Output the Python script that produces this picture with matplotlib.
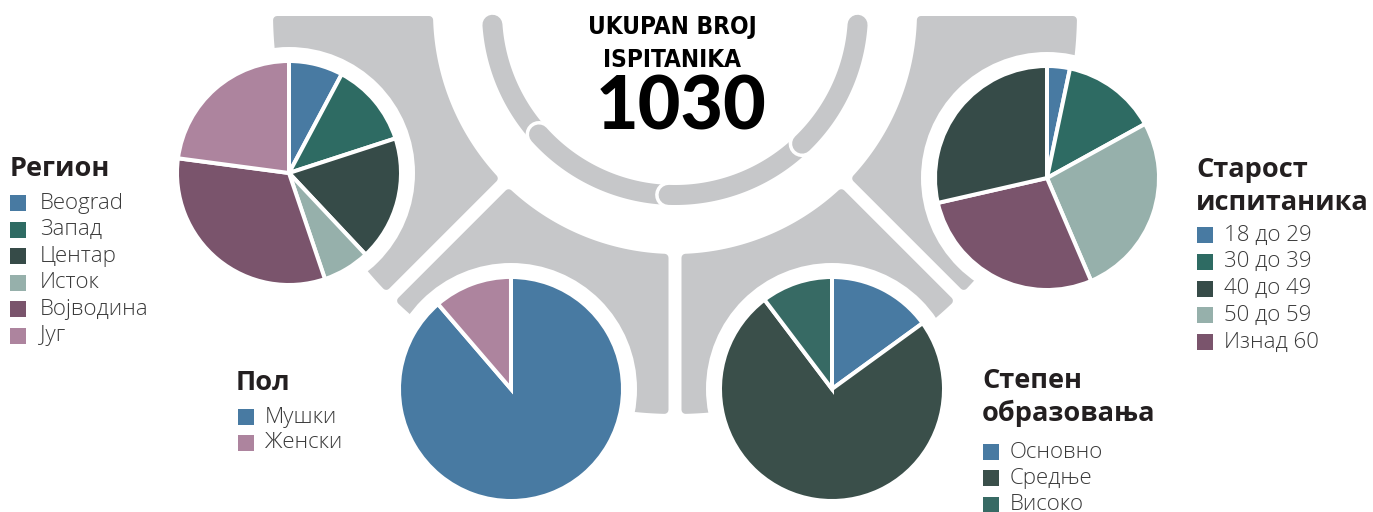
import numpy as np
import matplotlib
matplotlib.use("Agg")
import matplotlib.pyplot as plt
from matplotlib.patches import Polygon, Circle, Rectangle
import matplotlib.patheffects as pe
from matplotlib import font_manager

# ---------------- data ----------------
region_labels = ["Beograd", "Запад", "Центар", "Исток", "Војводина", "Југ"]
region_values = [7.8, 12.2, 18.0, 6.8, 32.3, 22.9]

age_labels = ["18 до 29", "30 до 39", "40 до 49", "50 до 59", "Изнад 60"]
age_values = [3.3, 13.7, 28.6, 26.6, 27.9]
age_pie_order = [0, 1, 3, 4, 2]   # clockwise order of wedges in the picture

gender_labels = ["Мушки", "Женски"]
gender_values = [88.7, 11.3]

edu_labels = ["Основно", "Средње", "Високо"]
edu_values = [15.0, 74.7, 10.3]

total_title = ["UKUPAN BROJ", "ISPITANIKA"]
total_value = 1030

# ---------------- style ----------------
BLUE = "#487aa2"
TEAL = "#2e6b63"
DARK = "#364b48"
LTEAL = "#96b0ab"
PURPLE = "#7a546c"
PINK = "#ad849e"
GRAY = "#c6c7c9"
TXT = "#231f20"
LTXT = "#3a3a3a"

region_colors = [BLUE, TEAL, DARK, LTEAL, PURPLE, PINK]
age_colors = [BLUE, TEAL, DARK, LTEAL, PURPLE]
gender_colors = [BLUE, PINK]
edu_colors = [BLUE, "#3a4f4a", "#376a64"]

SANS = ["Open Sans", "DejaVu Sans"]
has_cond = any(f.name == "DejaVu Sans" and f.stretch == "condensed" and f.weight in (700, "bold")
               for f in font_manager.fontManager.ttflist)

W, H = 1373, 512
PX = 0.72  # points per pixel at dpi 100

fig = plt.figure(figsize=(W / 100, H / 100), dpi=100)
ax = fig.add_axes([0, 0, 1, 1])


def Y(y):
    return H - y


# ---------------- gray decorative ring ----------------
CX, CY = 675, Y(12)
R_IN, R_OUT = 242, 402
RC = 4  # corner rounding radius


def sector(a1, a2, g1, g2, rin, rout):
    pts = []
    d1o, d2o = np.degrees(np.arcsin(g1 / rout)), np.degrees(np.arcsin(g2 / rout))
    d1i, d2i = np.degrees(np.arcsin(g1 / rin)), np.degrees(np.arcsin(g2 / rin))
    for t in np.linspace(a1 + d1o, a2 - d2o, 120):
        pts.append((CX + rout * np.cos(np.radians(t)), CY + rout * np.sin(np.radians(t))))
    for t in np.linspace(a2 - d2i, a1 + d1i, 120):
        pts.append((CX + rin * np.cos(np.radians(t)), CY + rin * np.sin(np.radians(t))))
    return pts


edges = [180, 225, 270, 315, 360]
gaps = [4, 6.5, 6.5, 6.5, 4]
for i in range(4):
    pts = sector(edges[i], edges[i + 1], gaps[i] + RC, gaps[i + 1] + RC, R_IN + RC, R_OUT - RC)
    ax.add_patch(Polygon(pts, closed=True, facecolor=GRAY, edgecolor=GRAY,
                         linewidth=2 * RC * PX, joinstyle="round", zorder=1))

# thin central arc made of overlapping segments
R_MID = 183
ARC_W = 20
bounds = [184, 222, 268, 314, 356]
for i in range(4):
    t = np.radians(np.linspace(bounds[i], bounds[i + 1], 100))
    ax.plot(CX + R_MID * np.cos(t), CY + R_MID * np.sin(t), color=GRAY,
            linewidth=ARC_W * PX, solid_capstyle="round", zorder=1.5 + i * 0.01,
            path_effects=[pe.Stroke(linewidth=(ARC_W + 7) * PX, foreground="white",
                                    capstyle="round"), pe.Normal()])

# ---------------- pies ----------------
PIE_R = 112
RING_R = 126


def draw_pie(values, colors, cx, cy, explode=None):
    ax.add_patch(Circle((cx, Y(cy)), RING_R, facecolor="white", edgecolor="none", zorder=2))
    wedges, _ = ax.pie(values, colors=colors, startangle=90, counterclock=False,
                       center=(cx, Y(cy)), radius=PIE_R, explode=explode,
                       wedgeprops=dict(edgecolor="white", linewidth=4 * PX))
    for w in wedges:
        w.set_zorder(3)


draw_pie(region_values, region_colors, 289, 173)
draw_pie([age_values[i] for i in age_pie_order], [age_colors[i] for i in age_pie_order], 1047, 178)
draw_pie(gender_values, gender_colors, 511, 389, explode=[0, 0.09])
draw_pie(edu_values, edu_colors, 832, 389)

# ---------------- legends ----------------
TITLE_FS = 19.5
ITEM_FS = 16
SQ = 16


def legend(title_lines, title_y, x, labels, colors, y0, dy, sq_x, text_x):
    for k, line in enumerate(title_lines):
        ax.text(x, Y(title_y[k]), line, fontsize=TITLE_FS, fontweight="bold",
                family=SANS, color=TXT, va="center", ha="left", zorder=5)
    for i, (lab, col) in enumerate(zip(labels, colors)):
        yc = y0 + dy * i
        ax.add_patch(Rectangle((sq_x, Y(yc) - SQ / 2), SQ, SQ, facecolor=col,
                               edgecolor="none", zorder=5))
        ax.text(text_x, Y(yc), lab, fontsize=ITEM_FS, fontweight="light",
                family=SANS, color=LTXT, va="center", ha="left", zorder=5)


legend(["Регион"], [169], 10, region_labels, region_colors, 203, 26.6, 10, 40)
legend(["Старост", "испитаника"], [170, 203], 1196, age_labels, age_colors, 235, 26.8, 1197, 1224)
legend(["Пол"], [383], 236, gender_labels, gender_colors, 417, 26, 238, 265)
legend(["Степен", "образовања"], [381, 413], 982, edu_labels, edu_colors, 452, 26.3, 983, 1010)

# ---------------- central title ----------------
if has_cond:
    title_kw = dict(fontsize=17.5, fontweight="bold", family=["DejaVu Sans"], fontstretch="condensed")
else:
    title_kw = dict(fontsize=16, fontweight="bold", family=SANS)
ax.text(672, Y(34), total_title[0], color="black", ha="center", va="baseline", zorder=5, **title_kw)
ax.text(672, Y(67), total_title[1], color="black", ha="center", va="baseline", zorder=5, **title_kw)
ax.text(681, Y(130), str(total_value), fontsize=53, fontweight="black",
        family=["Lato", "Open Sans", "DejaVu Sans"], color="black",
        ha="center", va="baseline", zorder=5)

ax.set_xlim(0, W)
ax.set_ylim(0, H)
ax.set_aspect("equal")
ax.axis("off")

fig.savefig("out.png", dpi=100)
